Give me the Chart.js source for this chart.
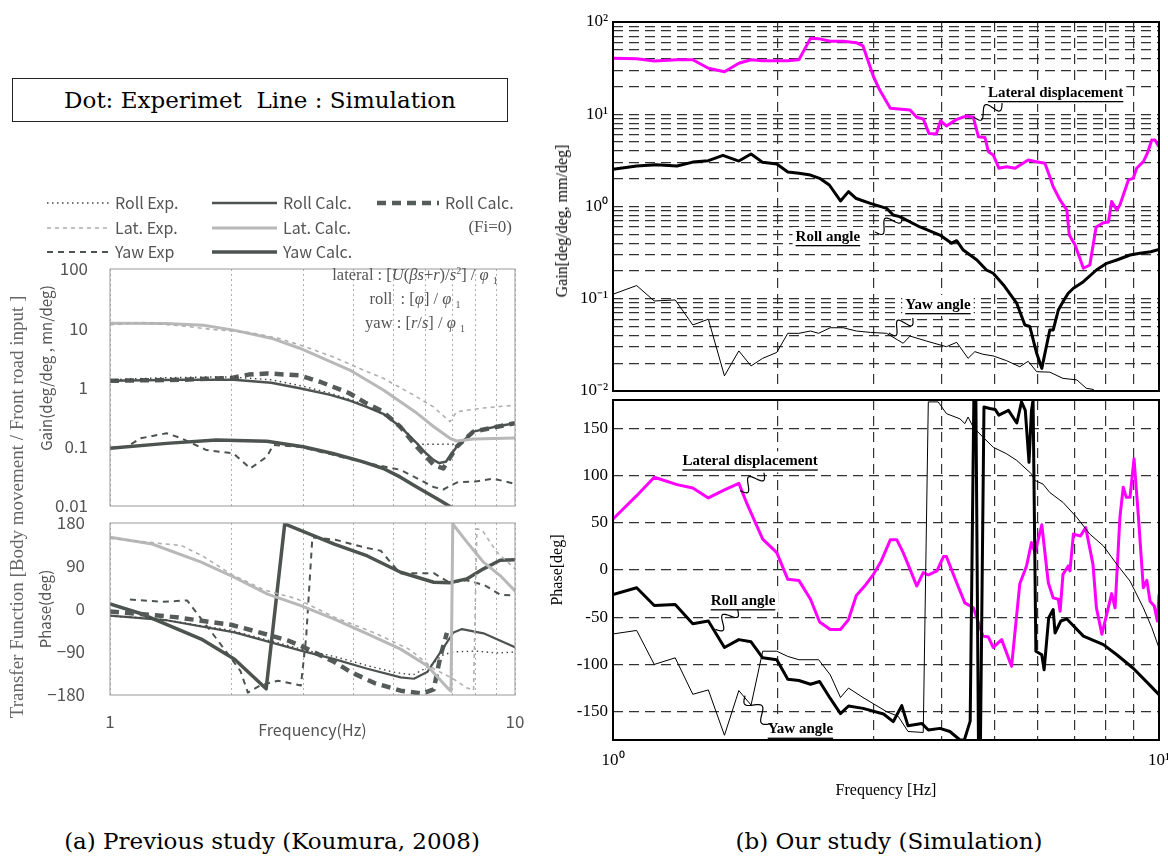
<!DOCTYPE html>
<html>
<head>
<meta charset="utf-8">
<script src="https://cdn.jsdelivr.net/npm/chart.js@4.4.1/dist/chart.umd.min.js"></script>
<style>
  body { margin: 0; background: #fff; width: 1168px; height: 866px; position: relative; overflow: hidden; }
  canvas { position: absolute; }
  .txt { position: absolute; white-space: nowrap; }
  .rot { transform: translate(-50%, -50%) rotate(-90deg); }
  #box { position: absolute; left: 12px; top: 78px; width: 494px; height: 42px; border: 1.5px solid #222;
         font: 23px 'DejaVu Serif'; text-align: center; line-height: 42px; }
  #formula { left: 313px; top: 263px; width: 204px; text-align: center; font: 16.5px 'Liberation Serif'; color: #555; line-height: 24px; }
  #formula sup, #formula sub { font-size: 10px; line-height: 0; }
  .cap { top: 828px; font: 23px 'DejaVu Serif'; transform: translateX(-50%); }
</style>
</head>
<body>
<canvas id="gainA" width="530" height="335" style="left:0;top:185px"></canvas>
<canvas id="phaseA" width="530" height="240" style="left:0;top:510px"></canvas>
<canvas id="gainB" width="640" height="404" style="left:540px;top:0"></canvas>
<canvas id="phaseB" width="640" height="410" style="left:540px;top:392px"></canvas>

<div id="box">Dot: Experimet&nbsp; Line : Simulation</div>
<div class="txt" id="formula">lateral : [<i>U</i>(<i>βs</i>+<i>r</i>)/<i>s</i><sup>2</sup>] / <i>φ</i> <sub>1</sub><br>roll&nbsp; : [<i>φ</i>] / <i>φ</i> <sub>1</sub><br>yaw : [<i>r</i>/<i>s</i>] / <i>φ</i> <sub>1</sub></div>
<div class="txt rot" style="left:17px;top:507px;font:19px 'Liberation Serif';color:#666">Transfer Function [Body movement / Front road input ]</div>
<div class="txt rot" style="left:45px;top:368px;font:15px 'Noto Sans CJK JP';color:#555">Gain(deg/deg , mn/deg)</div>
<div class="txt rot" style="left:562px;top:221px;font:16px 'Liberation Serif';color:#000">Gain[deg/deg, mm/deg]</div>
<div class="txt cap" style="left:272px">(a) Previous study (Koumura, 2008)</div>
<div class="txt cap" style="left:889px">(b) Our study (Simulation)</div>

<script>
// ---- (a) previous study: gain ----
const rollExpGainF = [1, 1.3, 1.7, 2.0, 2.5, 3.0, 3.5, 4.0, 4.5, 5.0, 5.4, 5.72, 6.5, 7.18];
const rollExpGainV = [1.35, 1.45, 1.5, 1.5, 1.35, 1.05, 0.8, 0.6, 0.42, 0.28, 0.18, 0.11, 0.11, 0.11];
const latExpGainF = [1, 1.2, 1.5, 1.8, 2.2, 2.6, 3.0, 3.55, 4.2, 4.73, 5.2, 5.61, 6.29, 6.6, 6.91, 7.18, 8.35, 9.9];
const latExpGainV = [11.5, 12.5, 11, 9.5, 8.5, 6.8, 5.0, 3.3, 2.0, 1.43, 1.0, 0.75, 0.47, 0.35, 0.265, 0.39, 0.45, 0.5];
const yawExpGainF = [1, 1.1, 1.19, 1.38, 1.5, 1.73, 2.02, 2.22, 2.44, 2.53, 2.94, 3.5, 4.3, 5.2, 5.83, 6.29, 6.65, 7.2, 8.0, 8.84, 9.9];
const yawExpGainV = [0.096, 0.1, 0.139, 0.169, 0.139, 0.088, 0.077, 0.043, 0.068, 0.107, 0.1, 0.075, 0.053, 0.041, 0.0275, 0.021, 0.019, 0.025, 0.026, 0.029, 0.024];
const rollCalcGainF = [1, 1.5, 2.02, 2.5, 2.94, 3.5, 3.91, 4.3, 4.73, 5.2, 5.72, 6.0, 6.29, 6.5, 6.75, 7.18, 7.89, 9, 10];
const rollCalcGainV = [1.3, 1.35, 1.35, 1.2, 0.97, 0.75, 0.6, 0.47, 0.36, 0.22, 0.115, 0.08, 0.06, 0.053, 0.056, 0.1, 0.18, 0.22, 0.25];
const latCalcGainF = [1, 1.38, 1.7, 2.02, 2.5, 2.94, 3.91, 4.73, 5.72, 6.29, 6.91, 7.18, 7.89, 10];
const latCalcGainV = [12.1, 12.0, 11.2, 9.3, 6.8, 4.6, 1.97, 0.91, 0.37, 0.22, 0.139, 0.125, 0.135, 0.14];
const yawCalcGainF = [1, 1.38, 1.83, 2.44, 3.0, 3.55, 4.2, 4.73, 5.2, 5.72, 6.5, 7.1];
const yawCalcGainV = [0.094, 0.114, 0.13, 0.124, 0.1, 0.077, 0.056, 0.043, 0.031, 0.021, 0.0126, 0.0088];
const rollFi0GainF = [1, 1.5, 2.0, 2.2, 2.44, 2.94, 3.3, 3.55, 3.9, 4.3, 4.7, 5.2, 5.72, 6.29, 6.65, 7.18, 7.89, 10];
const rollFi0GainV = [1.3, 1.35, 1.45, 1.65, 1.73, 1.6, 1.25, 1.03, 0.8, 0.54, 0.4, 0.22, 0.1, 0.05, 0.043, 0.1, 0.18, 0.25];

// ---- (a) previous study: phase ----
const rollExpPhaseF = [1, 1.3, 2.0, 3.0, 3.6, 4.3, 5.0, 5.6, 6.2, 6.6, 7.0, 8.0, 9.0, 10];
const rollExpPhaseV = [-15, -20, -45, -85, -100, -118, -132, -138, -118, -97, -90, -88, -92, -90];
const latExpPhaseF = [1, 1.3, 1.5, 1.7, 2.0, 2.4, 2.9, 3.6, 4.5, 5.5, 6.3, 7.0, 7.6, 7.9, 8.05, 8.3, 9.0, 10];
const latExpPhaseV = [148, 138, 133, 110, 72, 40, 21, -18, -50, -85, -125, -145, -165, -170, 168, 165, 120, 84];
const yawExpPhaseF = [1.12, 1.35, 1.55, 1.75, 1.9, 2.1, 2.19, 2.35, 2.6, 2.96, 3.05, 3.16, 3.6, 4.3, 4.66, 5.2, 6.3, 6.9, 7.6, 8.0, 8.4, 9.2, 10];
const yawExpPhaseV = [20, 15, 18, -40, -80, -130, -175, -160, -150, -160, -60, 150, 145, 128, 122, 75, 75, 55, 60, 55, 50, 30, 28];
const rollCalcPhaseF = [1, 1.39, 2.03, 2.96, 3.58, 4.32, 5.22, 5.63, 6.07, 6.54, 7.05, 7.4, 8.36, 10];
const rollCalcPhaseV = [-14, -24, -49, -87, -105, -125, -143, -146, -132, -91, -49, -42, -51, -80];
const latCalcPhaseF = [1, 1.27, 1.68, 2.03, 2.45, 2.96, 3.58, 4.32, 5.22, 6.07, 6.79, 6.95, 7.02, 7.61, 8.36, 9.19, 10];
const latCalcPhaseV = [150, 136, 98, 66, 31, 7, -21, -52, -84, -119, -164, -172, 178, 140, 98, 70, 38];
const yawCalcPhaseF = [1, 1.2, 1.68, 2.03, 2.43, 2.70, 3.58, 4.32, 5.22, 6.3, 6.9, 7.6, 8.36, 9.19, 10];
const yawCalcPhaseV = [10.5, -10.5, -63, -105, -167, 178, 136, 111, 77, 56, 55, 63, 84, 102, 103];
const rollFi0PhaseF = [1, 1.45, 1.99, 2.41, 2.75, 2.96, 3.58, 3.93, 4.5, 5.22, 5.9, 6.3, 6.54, 6.79];
const rollFi0PhaseV = [-5, -17, -33, -52, -66, -77, -111, -132, -155, -171, -177, -168, -100, -50];

// ---- (b) our study: gain ----
const latGainF = [1.0, 1.105, 1.19, 1.31, 1.40, 1.495, 1.60, 1.70, 1.79, 1.88, 2.09, 2.19, 2.30, 2.38, 2.50, 2.64, 2.79, 2.87, 3.0, 3.08, 3.22, 3.50, 3.60, 3.70, 3.79, 3.91, 3.98, 4.08, 4.26, 4.44, 4.57, 4.67, 4.80, 4.87, 4.97, 5.09, 5.26, 5.45, 5.76, 5.93, 6.18, 6.31, 6.40, 6.59, 6.78, 6.85, 7.02, 7.27, 7.47, 7.67, 7.91, 8.08, 8.19, 8.37, 8.48, 8.79, 8.97, 9.10, 9.36, 9.52, 9.70, 9.83, 10.0];
const latGainV = [40.4, 40, 37.8, 39, 39, 31.5, 28.9, 35.7, 39, 38, 38, 39, 66.5, 66, 61.8, 61.8, 59.7, 55, 25.5, 18.3, 11.6, 11.1, 9.27, 8.9, 6.2, 6.1, 8.5, 7.46, 8.8, 9.57, 9.27, 5.7, 5.6, 3.93, 3.62, 2.6, 2.7, 2.6, 3.19, 3.07, 2.94, 2.1, 1.64, 1.17, 0.916, 0.49, 0.383, 0.214, 0.232, 0.60, 0.667, 0.68, 1.13, 0.916, 1.04, 1.94, 2.02, 2.6, 3.06, 3.77, 5.26, 5.26, 4.45];
const rollGainF = [1.0, 1.105, 1.20, 1.31, 1.40, 1.495, 1.59, 1.70, 1.79, 1.88, 1.995, 2.09, 2.19, 2.30, 2.39, 2.49, 2.61, 2.70, 2.79, 2.96, 3.17, 3.26, 3.35, 3.65, 3.97, 4.17, 4.26, 4.38, 4.64, 4.83, 4.97, 5.19, 5.49, 5.68, 5.80, 5.97, 6.10, 6.31, 6.40, 6.54, 6.67, 6.82, 6.97, 7.27, 7.68, 8.02, 8.37, 8.85, 9.23, 9.66, 10.0];
const rollGainV = [2.53, 2.75, 2.84, 2.75, 3.03, 3.14, 3.59, 3.11, 3.71, 3.01, 2.89, 2.37, 2.29, 2.19, 2.02, 1.71, 1.15, 1.45, 1.22, 1.08, 0.955, 0.81, 0.776, 0.60, 0.49, 0.40, 0.426, 0.337, 0.263, 0.205, 0.189, 0.141, 0.089, 0.052, 0.050, 0.0256, 0.0176, 0.0458, 0.0458, 0.0755, 0.093, 0.1146, 0.13, 0.153, 0.205, 0.242, 0.263, 0.298, 0.311, 0.323, 0.343];
const yawGainF = [1.0, 1.105, 1.19, 1.30, 1.40, 1.495, 1.60, 1.70, 1.79, 1.88, 1.995, 2.09, 2.19, 2.30, 2.38, 2.50, 2.64, 2.79, 2.96, 3.17, 3.40, 3.50, 3.75, 4.08, 4.26, 4.47, 4.60, 4.76, 4.97, 5.26, 5.56, 5.76, 5.97, 6.31, 6.67, 7.07, 7.36, 7.58, 7.75];
const yawGainV = [0.112, 0.139, 0.0946, 0.097, 0.052, 0.060, 0.0146, 0.0272, 0.0187, 0.0226, 0.0262, 0.0422, 0.0422, 0.0447, 0.0422, 0.0485, 0.0485, 0.0447, 0.0432, 0.0422, 0.0329, 0.0394, 0.0348, 0.0302, 0.0337, 0.0226, 0.0267, 0.025, 0.024, 0.0213, 0.0183, 0.021, 0.0162, 0.016, 0.0137, 0.0132, 0.0107, 0.0104, 0.0092];

// ---- (b) our study: phase ----
const latPhaseF = [1.0, 1.105, 1.19, 1.31, 1.40, 1.495, 1.60, 1.70, 1.76, 1.88, 1.995, 2.09, 2.19, 2.30, 2.39, 2.50, 2.61, 2.70, 2.79, 2.89, 3.0, 3.10, 3.22, 3.31, 3.40, 3.50, 3.60, 3.70, 3.78, 3.92, 4.03, 4.08, 4.26, 4.41, 4.57, 4.76, 4.87, 4.97, 5.15, 5.37, 5.56, 5.72, 5.84, 5.93, 6.10, 6.27, 6.40, 6.54, 6.59, 6.67, 6.82, 6.87, 6.97, 7.18, 7.34, 7.57, 7.68, 7.86, 8.02, 8.19, 8.31, 8.48, 8.60, 8.71, 8.85, 9.00, 9.17, 9.36, 9.50, 9.63, 9.80, 9.93, 10.0];
const latPhaseV = [54, 78.7, 98.2, 90.4, 86.9, 76.3, 84.8, 91.8, 69.9, 32.7, 18.4, -9.9, -11, -31, -55, -63, -63, -52.5, -27, -17, -4.6, 9.6, 31.9, 31.9, 18.4, 0.7, -17, -2.8, -5.3, -1, 14.2, 14.2, -13.5, -34.8, -40, -70, -71, -82, -73.7, -102, -14.5, 4.3, 29, 18.4, 47.9, -13.5, -29.5, -31, -43.6, -4.6, 4.3, -1, 38, 36, 45, 6, -40, -68, -47, -25, -40, 55.7, 87.6, 77, 77, 117.8, 55.7, -18.8, -11, -33, -38, -54, -26.6];
const rollPhaseF = [1.0, 1.105, 1.19, 1.30, 1.40, 1.495, 1.60, 1.70, 1.79, 1.88, 1.995, 2.09, 2.19, 2.30, 2.39, 2.50, 2.61, 2.70, 2.87, 3.13, 3.26, 3.38, 3.47, 3.68, 3.78, 3.97, 4.14, 4.32, 4.40, 4.51, 4.58, 4.62, 4.67, 4.71, 4.78, 4.90, 5.01, 5.09, 5.30, 5.49, 5.60, 5.69, 5.78, 5.84, 5.88, 5.95, 6.10, 6.16, 6.28, 6.40, 6.45, 6.61, 6.78, 7.27, 7.91, 8.37, 8.97, 9.66, 10.0];
const rollPhaseV = [-26, -18.8, -37.6, -36.5, -57, -54, -82, -73.7, -76, -93, -95, -115.6, -117, -121, -118, -136, -152, -144, -146.5, -152.5, -160.6, -143.6, -165, -162.5, -169.5, -167.7, -171, -180, -180, -160, 180, 180, -180, -180, 172.6, 171, 170, 164, 169, 155.6, 178, 169, 114, 169, 180, -86, -89.7, -105.7, -50.7, -41.8, -66.7, -54, -51.8, -70, -79, -89.7, -104, -123, -132];
const yawPhaseF = [1.0, 1.105, 1.19, 1.30, 1.40, 1.495, 1.60, 1.70, 1.79, 1.88, 1.995, 2.09, 2.19, 2.38, 2.50, 2.61, 2.70, 2.87, 3.17, 3.33, 3.47, 3.70, 3.78, 3.94, 4.08, 4.32, 4.41, 4.47, 4.57, 4.76, 4.97, 5.26, 5.49, 5.84, 5.93, 6.13, 6.31, 6.67, 7.07, 7.47, 7.91, 8.37, 8.85, 9.36, 9.70, 10.0];
const yawPhaseV = [-67.7, -64, -100, -93, -131.6, -127, -175, -127.7, -143, -86, -86, -91.5, -95, -95, -111, -135, -125, -135, -150, -155, -171, -172, 178, 178, 165.6, 160, 155, 162, 151, 140.7, 130, 123, 116, 101.8, 94.7, 91, 82, 71.6, 55.7, 38, 25.5, 6, -11.7, -40, -61, -82.6];

// ---- ticks ----
const freqTicks = [1, 2, 3, 4, 5, 6, 7, 8, 9, 10];
const freqLabelsA = ['1', '', '', '', '', '', '', '', '', '10'];
const freqLabelsB = ['10\u2070', '', '', '', '', '', '', '', '', '10\u00B9'];
const gainDecades = [0.01, 0.1, 1, 10, 100];
const gainLabelsA = ['0.01', '0.1', '1', '10', '100'];
const gainLabelsB = ['10\u207B\u00B2', '10\u207B\u00B9', '10\u2070', '10\u00B9', '10\u00B2'];
const phaseTicksA = [-180, -90, 0, 90, 180];
const phaseLabelsA = ['\u2212180', '\u221290', '0', '90', '180'];
const phaseTicksB = [-150, -100, -50, 0, 50, 100, 150];

// minor grid for the log gain axis of (b)
const gainGridB = [];
gainDecades.slice(0, 4).forEach(d => {
    for (let k = 1; k <= 9; k++) gainGridB.push(k === 1 ? d : k * d);
});
gainGridB.push(100);

// label positions for (b), in data units
const gainNotes = [
    { text: 'Lateral displacement', f: 4.86, v: 17.0, from: [4.58, 9.33], to: [5.16, 13.2] },
    { text: 'Roll angle', f: 2.16, v: 0.467, from: [3.02, 0.53], to: [3.38, 0.81] },
    { text: 'Yaw angle', f: 3.43, v: 0.0855, from: [3.20, 0.0426], to: [3.54, 0.0618] }
];
const phaseNotes = [
    { text: 'Lateral displacement', f: 1.34, v: 115, from: [1.71, 84], to: [1.89, 103] },
    { text: 'Roll angle', f: 1.51, v: -33, from: [1.54, -62.8], to: [1.69, -41.5] },
    { text: 'Yaw angle', f: 1.92, v: -169, from: [1.745, -133], to: [1.94, -163] }
];

const SANS = 'Noto Sans CJK JP';
const SERIF = 'Liberation Serif';

function pts(f, v) {
    return f.map((x, i) => ({ x: x, y: v[i] }));
}

function line(label, f, v, color, width, dash) {
    return {
        label: label,
        data: pts(f, v),
        borderColor: color,
        borderWidth: width,
        borderDash: dash || [],
        borderJoinStyle: 'round',
        borderCapStyle: dash ? 'butt' : 'round',
        pointRadius: 0,
        fill: false,
        tension: 0
    };
}

function squiggle(ctx, x1, y1, x2, y2) {
    const dx = x2 - x1, dy = y2 - y1, len = Math.hypot(dx, dy);
    const nx = -dy / len, ny = dx / len;
    ctx.beginPath();
    for (let i = 0; i <= 40; i++) {
        const t = i / 40, s = Math.sin(t * Math.PI * 3) * 6;
        const px = x1 + dx * t + nx * s, py = y1 + dy * t + ny * s;
        if (i) ctx.lineTo(px, py); else ctx.moveTo(px, py);
    }
    ctx.lineWidth = 1.2;
    ctx.strokeStyle = '#000';
    ctx.stroke();
}

const frame = {
    id: 'frame',
    afterDraw(chart, args, opts) {
        const { ctx, chartArea: a } = chart;
        ctx.save();
        ctx.strokeStyle = opts.color;
        ctx.lineWidth = opts.width;
        ctx.strokeRect(a.left, a.top, a.right - a.left, a.bottom - a.top);
        ctx.restore();
    }
};

const notes = {
    id: 'notes',
    afterDatasetsDraw(chart, args, opts) {
        const { ctx, scales: { x, y } } = chart;
        ctx.save();
        ctx.font = 'bold 15px "' + SERIF + '"';
        ctx.textBaseline = 'middle';
        opts.items.forEach(n => {
            const tx = x.getPixelForValue(n.f), ty = y.getPixelForValue(n.v);
            const w = ctx.measureText(n.text).width;
            ctx.fillStyle = '#fff';
            ctx.fillRect(tx - 3, ty - 10, w + 6, 21);
            ctx.fillStyle = '#000';
            ctx.fillText(n.text, tx, ty);
            ctx.fillRect(tx, ty + 8, w, 1.3);
            squiggle(ctx, x.getPixelForValue(n.from[0]), y.getPixelForValue(n.from[1]),
                x.getPixelForValue(n.to[0]), y.getPixelForValue(n.to[1]));
        });
        ctx.restore();
    }
};

// legend for (a), drawn above the gain plot with each dataset's own line style
const legendA = {
    id: 'legendA',
    afterDraw(chart, args, opts) {
        const ctx = chart.ctx;
        ctx.save();
        ctx.textBaseline = 'middle';
        opts.items.forEach(it => {
            const ds = chart.data.datasets.find(d => d.label === it.label);
            ctx.beginPath();
            ctx.setLineDash(ds.borderDash);
            ctx.strokeStyle = ds.borderColor;
            ctx.lineWidth = ds.borderWidth;
            ctx.moveTo(it.x, it.y);
            ctx.lineTo(it.x + it.w, it.y);
            ctx.stroke();
            ctx.setLineDash([]);
            ctx.fillStyle = '#555';
            ctx.font = '16px "' + SANS + '"';
            ctx.fillText(it.text, it.x + it.w + 6, it.y);
        });
        ctx.font = '17px "' + SERIF + '"';
        ctx.textAlign = 'right';
        ctx.fillText('(Fi=0)', 512, 43);
        ctx.restore();
    }
};

function base(padding) {
    return {
        responsive: false,
        animation: false,
        devicePixelRatio: 1,
        layout: { padding: padding }
    };
}

// fixed axis sizes, and no extra room reserved for the end labels
function fixWidth(w) {
    return s => { s.width = w; s.paddingTop = 0; s.paddingBottom = 0; };
}

function logFreqAxis(height, grid, dash, ticks, title) {
    return {
        type: 'logarithmic', min: 1, max: 10,
        afterBuildTicks: s => { s.ticks = freqTicks.map(v => ({ value: v })); },
        afterFit: s => { s.height = height; s.paddingLeft = 0; s.paddingRight = 0; },
        ticks: ticks || { display: false },
        grid: grid,
        border: { display: false, dash: dash },
        title: title || { display: false }
    };
}

// ---------- (a) gain ----------
const gridA = { color: '#b0b0b0', lineWidth: 1, drawTicks: false };
new Chart(document.getElementById('gainA'), {
    type: 'line',
    data: {
        datasets: [
            line('Lat. Exp.', latExpGainF, latExpGainV, '#b0b0b0', 1.6, [4, 4]),
            line('Lat. Calc.', latCalcGainF, latCalcGainV, '#b8b8b8', 3),
            line('Roll Exp.', rollExpGainF, rollExpGainV, '#444', 1.4, [1.5, 3.5]),
            line('Roll Calc.', rollCalcGainF, rollCalcGainV, '#4d5450', 2.5),
            line('Roll Calc. (Fi=0)', rollFi0GainF, rollFi0GainV, '#555b58', 4.5, [9, 6]),
            line('Yaw Exp', yawExpGainF, yawExpGainV, '#4d5450', 2, [6, 5]),
            line('Yaw Calc.', yawCalcGainF, yawCalcGainV, '#4d5450', 3.5)
        ]
    },
    options: Object.assign(base({ top: 84, right: 15, bottom: 0, left: 0 }), {
        scales: {
            x: logFreqAxis(14, gridA, [2, 3]),
            y: {
                type: 'logarithmic', min: 0.01, max: 100,
                afterBuildTicks: s => { s.ticks = gainDecades.map(v => ({ value: v })); },
                afterFit: fixWidth(110),
                ticks: { autoSkip: false, padding: 14, color: '#555', font: { family: SANS, size: 17 },
                    callback: (v, i) => gainLabelsA[i] },
                grid: { display: false },
                border: { display: false }
            }
        },
        plugins: {
            legend: { display: false },
            tooltip: { enabled: false },
            frame: { color: '#999', width: 1 },
            legendA: {
                items: [
                    { label: 'Roll Exp.', text: 'Roll Exp.', x: 47, y: 18, w: 62 },
                    { label: 'Lat. Exp.', text: 'Lat. Exp.', x: 47, y: 43, w: 62 },
                    { label: 'Yaw Exp', text: 'Yaw Exp', x: 47, y: 67, w: 62 },
                    { label: 'Roll Calc.', text: 'Roll Calc.', x: 212, y: 18, w: 65 },
                    { label: 'Lat. Calc.', text: 'Lat. Calc.', x: 212, y: 43, w: 65 },
                    { label: 'Yaw Calc.', text: 'Yaw Calc.', x: 212, y: 67, w: 65 },
                    { label: 'Roll Calc. (Fi=0)', text: 'Roll Calc.', x: 377, y: 18, w: 62 }
                ]
            }
        }
    }),
    plugins: [frame, legendA]
});

// ---------- (a) phase ----------
new Chart(document.getElementById('phaseA'), {
    type: 'line',
    data: {
        datasets: [
            line('Lat. Exp.', latExpPhaseF, latExpPhaseV, '#b0b0b0', 1.6, [4, 4]),
            line('Lat. Calc.', latCalcPhaseF, latCalcPhaseV, '#b8b8b8', 3),
            line('Roll Exp.', rollExpPhaseF, rollExpPhaseV, '#444', 1.4, [1.5, 3.5]),
            line('Roll Calc.', rollCalcPhaseF, rollCalcPhaseV, '#4d5450', 2.2),
            line('Roll Calc. (Fi=0)', rollFi0PhaseF, rollFi0PhaseV, '#555b58', 4.5, [9, 6]),
            line('Yaw Exp', yawExpPhaseF, yawExpPhaseV, '#4d5450', 2, [6, 5]),
            line('Yaw Calc.', yawCalcPhaseF, yawCalcPhaseV, '#4d5450', 3.5)
        ]
    },
    options: Object.assign(base({ top: 13, right: 15, bottom: 0, left: 0 }), {
        scales: {
            x: logFreqAxis(55, gridA, [2, 3],
                { autoSkip: false, maxRotation: 0, padding: 16, color: '#555', font: { family: SANS, size: 17 },
                  callback: (v, i) => freqLabelsA[i] },
                { display: true, text: 'Frequency(Hz)', color: '#555', font: { family: SANS, size: 16 },
                  padding: { top: 0, bottom: 10 } }),
            y: {
                min: -180, max: 180,
                afterBuildTicks: s => { s.ticks = phaseTicksA.map(v => ({ value: v })); },
                afterFit: fixWidth(110),
                ticks: { autoSkip: false, padding: 17, color: '#555', font: { family: SANS, size: 17 },
                    callback: (v, i) => phaseLabelsA[i] },
                grid: { display: false },
                border: { display: false },
                title: { display: true, text: 'Phase(deg)', color: '#555', font: { family: SANS, size: 15 },
                    padding: { top: 36, bottom: 0 } }
            }
        },
        plugins: {
            legend: { display: false },
            tooltip: { enabled: false },
            frame: { color: '#999', width: 1 }
        }
    }),
    plugins: [frame]
});

// ---------- (b) gain ----------
const gridB = { color: '#333', lineWidth: 1.2, drawTicks: false };
new Chart(document.getElementById('gainB'), {
    type: 'line',
    data: {
        datasets: [
            line('Yaw angle', yawGainF, yawGainV, '#000', 1),
            line('Roll angle', rollGainF, rollGainV, '#000', 3),
            line('Lateral displacement', latGainF, latGainV, '#ff00ff', 3)
        ]
    },
    options: Object.assign(base({ top: 22, right: 21, bottom: 0, left: 0 }), {
        scales: {
            x: logFreqAxis(13, gridB, [10, 6]),
            y: {
                type: 'logarithmic', min: 0.01, max: 100,
                afterBuildTicks: s => { s.ticks = gainGridB.map(v => ({ value: v })); },
                afterFit: fixWidth(73),
                ticks: { autoSkip: false, padding: 5, color: '#000', font: { family: SERIF, size: 17 },
                    callback: v => { const i = gainDecades.indexOf(v); return i < 0 ? '' : gainLabelsB[i]; } },
                grid: gridB,
                border: { display: false, dash: [10, 6] }
            }
        },
        plugins: {
            legend: { display: false },
            tooltip: { enabled: false },
            frame: { color: '#000', width: 2 },
            notes: { items: gainNotes }
        }
    }),
    plugins: [frame, notes]
});

// ---------- (b) phase ----------
new Chart(document.getElementById('phaseB'), {
    type: 'line',
    data: {
        datasets: [
            line('Yaw angle', yawPhaseF, yawPhaseV, '#000', 1),
            line('Roll angle', rollPhaseF, rollPhaseV, '#000', 3),
            line('Lateral displacement', latPhaseF, latPhaseV, '#ff00ff', 3)
        ]
    },
    options: Object.assign(base({ top: 8, right: 21, bottom: 0, left: 0 }), {
        scales: {
            x: logFreqAxis(62, gridB, [10, 6],
                { autoSkip: false, maxRotation: 0, padding: 10, color: '#000', font: { family: SERIF, size: 17 },
                  callback: (v, i) => freqLabelsB[i] },
                { display: true, text: 'Frequency [Hz]', color: '#000', font: { family: SERIF, size: 16 },
                  padding: { top: 0, bottom: 2 } }),
            y: {
                min: -180, max: 180,
                afterBuildTicks: s => { s.ticks = phaseTicksB.map(v => ({ value: v })); },
                afterFit: fixWidth(73),
                ticks: { autoSkip: false, padding: 5, color: '#000', font: { family: SERIF, size: 17 },
                    callback: v => String(v) },
                grid: gridB,
                border: { display: false, dash: [10, 6] },
                title: { display: true, text: 'Phase[deg]', color: '#000', font: { family: SERIF, size: 16 },
                    padding: { top: 8, bottom: 0 } }
            }
        },
        plugins: {
            legend: { display: false },
            tooltip: { enabled: false },
            frame: { color: '#000', width: 2 },
            notes: { items: phaseNotes }
        }
    }),
    plugins: [frame, notes]
});
</script>
</body>
</html>
